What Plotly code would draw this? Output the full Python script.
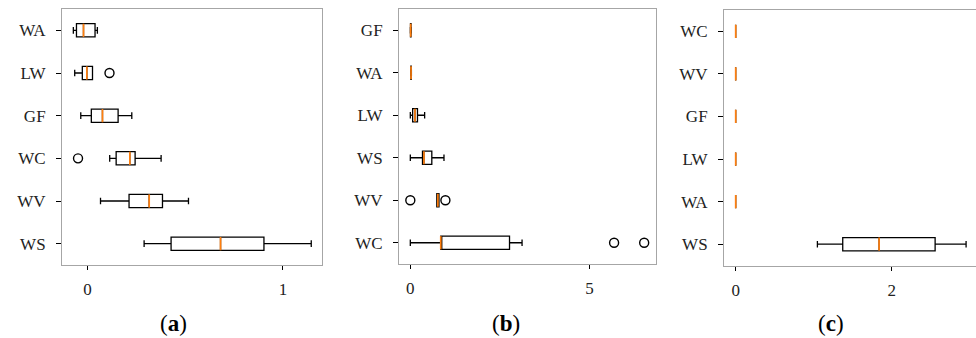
import plotly.graph_objects as go

# ---------------- data (listed bottom-up, as drawn) ----------------
labels_a = ["WS", "WV", "WC", "GF", "LW", "WA"]
lo_a  = [0.290, 0.067, 0.114, -0.034, -0.065, -0.072]
q1_a  = [0.428, 0.213, 0.147,  0.020, -0.026, -0.056]
med_a = [0.681, 0.316, 0.217,  0.077, -0.003, -0.020]
q3_a  = [0.903, 0.384, 0.244,  0.157,  0.026,  0.039]
hi_a  = [1.145, 0.517, 0.377,  0.227,  0.026,  0.051]
out_a = [[], [], [-0.048], [], [0.113], []]

labels_b = ["WC", "WV", "WS", "LW", "WA", "GF"]
lo_b  = [0.00, 0.74, 0.00, 0.000, 0.010, 0.000]
q1_b  = [0.85, 0.74, 0.34, 0.065, 0.015, 0.005]
med_b = [0.85, 0.77, 0.38, 0.130, 0.020, 0.010]
q3_b  = [2.77, 0.80, 0.60, 0.200, 0.025, 0.020]
hi_b  = [3.12, 0.80, 0.94, 0.400, 0.030, 0.025]
out_b = [[5.69, 6.53], [0.0, 0.98], [], [], [], []]

labels_c = ["WS", "WA", "LW", "GF", "WV", "WC"]
lo_c  = [1.047, 0, 0, 0, 0, 0]
q1_c  = [1.372, 0, 0, 0, 0, 0]
med_c = [1.838, 0, 0, 0, 0, 0]
q3_c  = [2.556, 0, 0, 0, 0, 0]
hi_c  = [2.953, 0, 0, 0, 0, 0]
out_c = [[], [], [], [], [], []]

ticks_a = [0, 1]
ticks_b = [0, 5]
ticks_c = [0, 2]
panel_titles = ["(<b>a</b>)", "(<b>b</b>)", "(<b>c</b>)"]

# ---------------- styling ----------------
FONT = "Liberation Serif"
ORANGE = "#ff7f0e"
FRAME = "#a6a6a6"
BOXW = 0.31

panels = [
    (labels_a, lo_a, q1_a, med_a, q3_a, hi_a, out_a, ticks_a, [-0.13, 1.20], [62, 322], [9, 265], True),
    (labels_b, lo_b, q1_b, med_b, q3_b, hi_b, out_b, ticks_b, [-0.316, 6.86], [399, 656], [9, 264], True),
    (labels_c, lo_c, q1_c, med_c, q3_c, hi_c, out_c, ticks_c, [-0.15, 3.08], [724, 976], [10, 265.5], False),
]

W, H = 976, 338
fig = go.Figure()
layout = dict(
    width=W, height=H, margin=dict(l=0, r=0, t=0, b=0),
    paper_bgcolor="white", plot_bgcolor="white", showlegend=False,
    font=dict(family=FONT, size=17, color="#222"),
)

for i, (labs, lo, q1, med, q3, hi, outs, ticks, xr, xpx, ypx, mirr) in enumerate(panels):
    n = "" if i == 0 else str(i + 1)
    xa, ya = "x" + n, "y" + n
    pos = list(range(len(labs)))
    fig.add_trace(go.Box(
        y=pos, q1=q1, median=med, q3=q3, lowerfence=lo, upperfence=hi,
        orientation="h", width=BOXW, whiskerwidth=0.5,
        fillcolor="white", line=dict(color="black", width=1.3),
        boxpoints=False, hoverinfo="skip", xaxis=xa, yaxis=ya,
    ))
    # median lines (orange)
    mx, my = [], []
    for p, m in zip(pos, med):
        mx += [m, m, None]
        my += [p - BOXW / 2, p + BOXW / 2, None]
    fig.add_trace(go.Scatter(x=mx, y=my, mode="lines",
                             line=dict(color=ORANGE, width=1.7),
                             hoverinfo="skip", xaxis=xa, yaxis=ya))
    # outliers
    ox, oy = [], []
    for p, o in zip(pos, outs):
        ox += o
        oy += [p] * len(o)
    if ox:
        fig.add_trace(go.Scatter(x=ox, y=oy, mode="markers",
                                 marker=dict(symbol="circle-open", size=9,
                                             color="black", line=dict(width=1.4)),
                                 hoverinfo="skip", xaxis=xa, yaxis=ya))
    xkey = "xaxis" + n
    ykey = "yaxis" + n
    layout[xkey] = dict(
        domain=[xpx[0] / W, min(xpx[1] / W, 1.0)], range=xr, anchor=ya,
        tickvals=ticks, ticktext=[str(t) for t in ticks],
        showgrid=False, zeroline=False, showline=True, linecolor=FRAME, linewidth=1,
        mirror=True, ticks="outside", ticklen=4, tickcolor="black", tickwidth=1,
        ticklabelstandoff=5,
        tickfont=dict(family=FONT, size=17, color="#222"),
    )
    layout[ykey] = dict(
        domain=[(H - ypx[1]) / H, (H - ypx[0]) / H], range=[-0.5, 5.5], anchor=xa,
        tickvals=pos, ticktext=labs,
        showgrid=False, zeroline=False, showline=True, linecolor=FRAME, linewidth=1,
        mirror=mirr, ticks="outside", ticklen=5, tickcolor="black", tickwidth=1,
        ticklabelstandoff=7,
        tickfont=dict(family=FONT, size=17, color="#222"),
    )

fig.update_layout(**layout)

centers = [173, 506, 831]
for c, t in zip(centers, panel_titles):
    fig.add_annotation(text=t, x=c / W, y=(H - 323) / H, xref="paper", yref="paper",
                       showarrow=False, xanchor="center", yanchor="middle",
                       font=dict(family=FONT, size=23, color="black"))

fig.write_html("out.html")
